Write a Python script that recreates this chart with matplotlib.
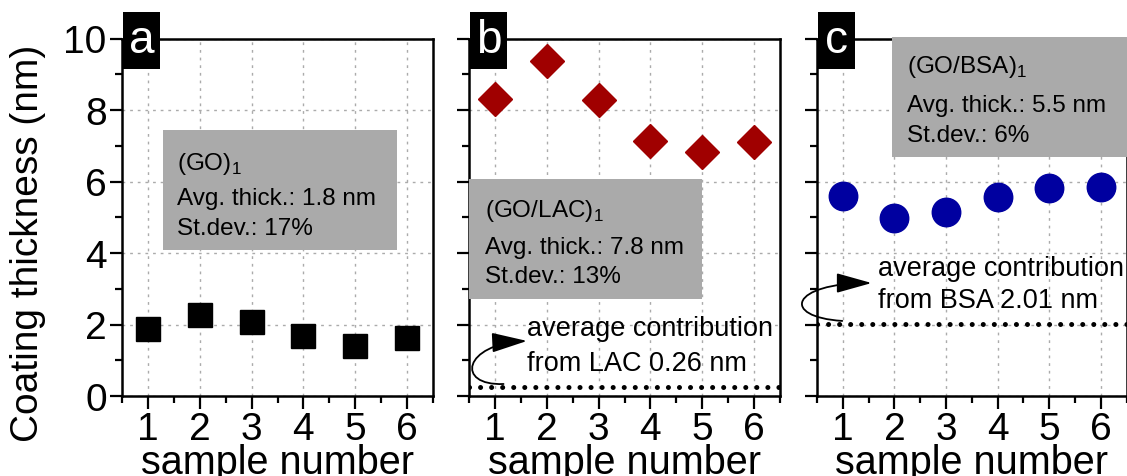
import matplotlib
matplotlib.use("Agg")
import matplotlib.pyplot as plt
from matplotlib.patches import Rectangle, FancyArrowPatch
from matplotlib.path import Path

plt.rcParams['font.family'] = ['Liberation Sans', 'DejaVu Sans']

# ---- data ----
samples = [1, 2, 3, 4, 5, 6]
go_thick = [1.87, 2.27, 2.08, 1.69, 1.41, 1.62]
golac_thick = [8.31, 9.37, 8.28, 7.12, 6.83, 7.10]
gobsa_thick = [5.59, 4.97, 5.16, 5.57, 5.81, 5.85]
lac_contrib = 0.26
bsa_contrib = 2.01
panel_letters = ['a', 'b', 'c']
box_titles = ['(GO)', '(GO/LAC)', '(GO/BSA)']
avg_labels = ['Avg. thick.: 1.8 nm', 'Avg. thick.: 7.8 nm', 'Avg. thick.: 5.5 nm']
std_labels = ['St.dev.: 17%', 'St.dev.: 13%', 'St.dev.: 6%']
yticks = [0, 2, 4, 6, 8, 10]

W, H = 1127, 477
fig = plt.figure(figsize=(W / 100, H / 100), dpi=100)

ax_h = 357.5 / H
ax_b = 1 - 397 / H
lefts = [122 / W, 469 / W, 817 / W]
widths = [311 / W, 311 / W, 309.5 / W]
axes = [fig.add_axes([l, ax_b, w, ax_h]) for l, w in zip(lefts, widths)]

grid_col = '#ababab'
box_col = '#aaaaaa'

for i, ax in enumerate(axes):
    ax.set_xlim(0.5, 6.5)
    ax.set_ylim(0, 10)
    ax.set_xticks(samples)
    ax.set_xticks([0.5, 1.5, 2.5, 3.5, 4.5, 5.5, 6.5], minor=True)
    ax.set_yticks(yticks)
    ax.set_yticks([1, 3, 5, 7, 9], minor=True)
    ax.tick_params(which='major', direction='out', length=9, width=1.6,
                   labelsize=28, pad=2)
    ax.tick_params(which='minor', direction='out', length=5, width=1.6)
    ax.tick_params(axis='x', which='major', pad=1.5)
    for s in ax.spines.values():
        s.set_linewidth(1.8)
    ax.grid(True, which='major', color=grid_col, linestyle=(0, (2, 3.5)), lw=1.0)
    ax.set_axisbelow(True)
    ax.set_xlabel('sample number', fontsize=28.5)
    ax.xaxis.label.set_va('baseline')
    ax.xaxis.set_label_coords(0.5, -(474 - 397) / 357.5)
    if i > 0:
        ax.set_yticklabels([])
    # panel letter box
    ax.add_patch(Rectangle((0.003, 0.915), 0.12, 0.16, transform=ax.transAxes,
                           facecolor='black', edgecolor='none', clip_on=False, zorder=10))
    ax.text(0.063, 0.995, panel_letters[i], transform=ax.transAxes, color='white',
            fontsize=33, ha='center', va='center', zorder=11, clip_on=False)

fig.text(28 / W, 1 - 243 / H, 'Coating thickness (nm)', rotation=90,
         ha='center', va='center', fontsize=28)

# markers
axes[0].plot(samples, go_thick, 's', color='black', markersize=17, zorder=5)
axes[1].plot(samples, golac_thick, 'D', color='#a00000', markersize=17.5, zorder=5)
axes[2].plot(samples, gobsa_thick, 'o', color='#0000a0', markersize=20.5, zorder=5)

# gray info boxes (x0, y0, w, h) and text placement
box_geo = [(1.29, 4.08, 4.52, 3.36), (0.5, 2.71, 4.5, 3.36), (1.96, 6.69, 4.6, 3.36)]
text_x = [1.57, 0.81, 2.25]
text_y = [(6.35, 5.37, 4.53), (5.04, 4.0, 3.19), (9.05, 7.98, 7.14)]
for i, ax in enumerate(axes):
    x0, y0, bw, bh = box_geo[i]
    ax.add_patch(Rectangle((x0, y0), bw, bh, facecolor=box_col, edgecolor='none',
                           zorder=3, clip_on=False))
    ty = text_y[i]
    ax.text(text_x[i], ty[0], box_titles[i] + r'$_{\mathregular{1}}$', fontsize=17.5,
            va='baseline', ha='left', zorder=4)
    ax.text(text_x[i], ty[1], avg_labels[i], fontsize=17.5, va='baseline', ha='left', zorder=4)
    ax.text(text_x[i], ty[2], std_labels[i], fontsize=17.5, va='baseline', ha='left', zorder=4)

# contribution lines
dot_style = dict(color='black', lw=3.6, linestyle=(0, (0.01, 2.2)),
                 dash_capstyle='round', zorder=6)
axes[1].axhline(lac_contrib, **dot_style)
axes[2].axhline(bsa_contrib, **dot_style)

axes[1].text(1.62, 1.71, 'average contribution', fontsize=19.5, va='baseline', ha='left', zorder=4)
axes[1].text(1.62, 0.73, 'from LAC 0.26 nm', fontsize=19.5, va='baseline', ha='left', zorder=4)
axes[2].text(1.68, 3.38, 'average contribution', fontsize=19.5, va='baseline', ha='left', zorder=4)
axes[2].text(1.68, 2.49, 'from BSA 2.01 nm', fontsize=19.5, va='baseline', ha='left', zorder=4)

# curved arrows
codes = [Path.MOVETO, Path.CURVE4, Path.CURVE4, Path.CURVE4]
arrow_paths = [
    (axes[1], [(1.166, 0.336), (0.234, 0.28), (0.389, 1.455), (1.62, 1.54)]),
    (axes[2], [(0.99, 2.10), (-0.21, 2.21), (-0.02, 3.16), (1.56, 3.16)]),
]
for ax, verts in arrow_paths:
    arr = FancyArrowPatch(path=Path(verts, codes),
                          arrowstyle='-|>,head_length=1.0,head_width=0.28',
                          mutation_scale=22, color='black', lw=1.3,
                          clip_on=False, zorder=7)
    ax.add_patch(arr)

fig.savefig('out.png', dpi=100)
